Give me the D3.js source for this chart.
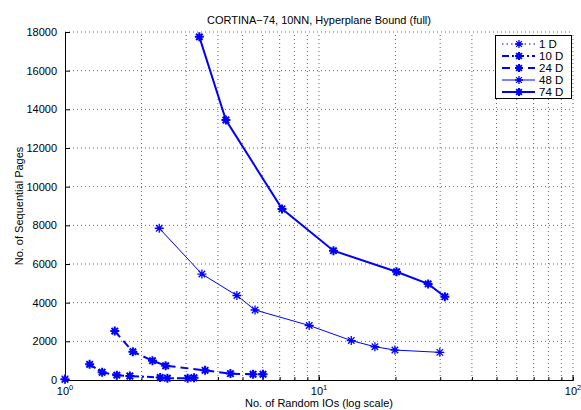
<!DOCTYPE html>
<head>
    <meta charset="utf-8">
    <script src="https://d3js.org/d3.v7.min.js"></script>
    <style>
        body{ margin: 0; background: #fff; }
        text{ font-family: "Liberation Sans", Arial, sans-serif; font-size: 11px; fill: #000; }
    </style>
</head>
<body>
<div id="my_dataviz"></div>
<script>

// data
var dims = ["1 D", "10 D", "24 D", "48 D", "74 D"]
var x1 = [1, 1]
var y1 = [60, 20]
var x10 = [1.25, 1.40, 1.60, 1.80, 2.37, 2.53, 3.04, 3.22]
var y10 = [810, 400, 250, 205, 130, 95, 95, 115]
var x24 = [1.57, 1.85, 2.21, 2.49, 3.56, 4.48, 5.50, 6.02]
var y24 = [2530, 1465, 1000, 740, 500, 330, 295, 295]
var x48 = [2.35, 3.46, 4.75, 5.60, 9.15, 13.4, 16.6, 19.9, 29.9]
var y48 = [7850, 5480, 4370, 3620, 2820, 2040, 1720, 1550, 1430]
var x74 = [3.38, 4.30, 7.15, 11.4, 20.2, 26.9, 31.3]
var y74 = [17750, 13450, 8850, 6690, 5600, 4970, 4310]
var yTicks = [0, 2000, 4000, 6000, 8000, 10000, 12000, 14000, 16000, 18000]
var xDecades = [1, 10, 100]

var width = 581, height = 410
// plot box (window.top is taken, so other names)
var pLeft = 65, pRight = 573, pTop = 32, pBottom = 380

var svg = d3.select("#my_dataviz")
  .append("svg")
    .attr("width", width)
    .attr("height", height)

var x = d3.scaleLog().domain([1, 100]).range([pLeft, pRight])
var y = d3.scaleLinear().domain([0, 18000]).range([pBottom, pTop])

// grid (dotted, like matlab)
var xMinor = []
for (var d = 1; d < 100; d *= 10)
  for (var k = 1; k < 10; k++) xMinor.push(d * k)
xMinor.push(100)

svg.selectAll("vgrid").data(xMinor.slice(1)).enter().append("line")
  .attr("x1", function(d){ return x(d) }).attr("x2", function(d){ return x(d) })
  .attr("y1", pBottom).attr("y2", pTop)
  .attr("stroke", "#666").attr("stroke-width", 1)
  .attr("stroke-dasharray", "1,3")
svg.selectAll("hgrid").data(yTicks.slice(1)).enter().append("line")
  .attr("x1", pLeft).attr("x2", pRight)
  .attr("y1", function(d){ return y(d) }).attr("y2", function(d){ return y(d) })
  .attr("stroke", "#666").attr("stroke-width", 1)
  .attr("stroke-dasharray", "1,3")

// axes
var yAxis = d3.axisLeft(y).tickValues(yTicks).tickSize(-5).tickPadding(8).tickFormat(d3.format("d"))
svg.append("g").attr("transform", "translate(" + pLeft + ",0)").call(yAxis)
var xAxis = d3.axisBottom(x).tickValues(xMinor).tickSize(-3).tickFormat("")
svg.append("g").attr("transform", "translate(0," + pBottom + ")").call(xAxis)
svg.selectAll(".domain").attr("stroke", "#000")
svg.selectAll(".tick line").attr("stroke", "#000")
svg.selectAll(".tick text").style("font-size", "11px").style("font-family", "Liberation Sans, Arial, sans-serif")

// major x ticks a bit longer, labels 10^n
svg.selectAll("xmaj").data(xDecades).enter().append("line")
  .attr("x1", function(d){ return x(d) }).attr("x2", function(d){ return x(d) })
  .attr("y1", pBottom).attr("y2", pBottom - 5).attr("stroke", "#000")
var xl = svg.selectAll("xlab").data(xDecades).enter().append("text")
  .attr("x", function(d){ return x(d) })
  .attr("y", pBottom + 15)
  .attr("text-anchor", "middle")
xl.append("tspan").text("10")
xl.append("tspan").attr("dy", -5).style("font-size", "7.5px")
  .text(function(d){ return Math.round(Math.log10(d)) })

// titles
svg.append("text").attr("x", (pLeft + pRight) / 2).attr("y", 24)
  .attr("text-anchor", "middle").text("CORTINA\u221274, 10NN, Hyperplane Bound (full)")
svg.append("text").attr("x", (pLeft + pRight) / 2).attr("y", 407)
  .attr("text-anchor", "middle").text("No. of Random IOs (log scale)")
svg.append("text").attr("transform", "translate(23," + (pTop + pBottom) / 2 + ") rotate(-90)")
  .attr("text-anchor", "middle").text("No. of Sequential Pages")

// series
var series = [
  {name: dims[0], xs: x1, ys: y1, w: 1, dash: "1.5,3"},
  {name: dims[1], xs: x10, ys: y10, w: 2, dash: "7,3,2,3"},
  {name: dims[2], xs: x24, ys: y24, w: 2, dash: "8,5"},
  {name: dims[3], xs: x48, ys: y48, w: 1, dash: null},
  {name: dims[4], xs: x74, ys: y74, w: 2, dash: null}
]

function star(r) {
  var a = r * 0.72
  return "M" + (-r) + ",0L" + r + ",0M0," + (-r) + "L0," + r +
    "M" + (-a) + "," + (-a) + "L" + a + "," + a + "M" + (-a) + "," + a + "L" + a + "," + (-a)
}

var line = d3.line().x(function(d){ return x(d[0]) }).y(function(d){ return y(d[1]) })

series.forEach(function(s) {
  var pts = d3.zip(s.xs, s.ys)
  svg.append("path").datum(pts)
    .attr("d", line)
    .attr("fill", "none").attr("stroke", "#0000ff")
    .attr("stroke-width", s.w)
    .attr("stroke-dasharray", s.dash)
  svg.selectAll("mk").data(pts).enter().append("path")
    .attr("transform", function(d){ return "translate(" + x(d[0]) + "," + y(d[1]) + ")" })
    .attr("d", star(4.5))
    .attr("fill", "none").attr("stroke", "#0000ff")
    .attr("stroke-width", s.w == 2 ? 2 : 1.3)
})

// legend
var lg = svg.append("g")
lg.append("rect").attr("x", 495.5).attr("y", 35.5).attr("width", 76).attr("height", 63)
  .attr("fill", "#fff").attr("stroke", "#000")
series.forEach(function(s, i) {
  var ly = 44 + i * 12
  lg.append("line").attr("x1", 502).attr("x2", 535).attr("y1", ly).attr("y2", ly)
    .attr("stroke", "#0000ff").attr("stroke-width", s.w).attr("stroke-dasharray", s.dash)
  lg.append("path").attr("transform", "translate(519," + ly + ")").attr("d", star(4))
    .attr("fill", "none").attr("stroke", "#0000ff").attr("stroke-width", s.w == 2 ? 2 : 1.3)
  lg.append("text").attr("x", 539).attr("y", ly + 4).style("font-size", "11.5px").text(s.name)
})

</script>
</body>
</html>
